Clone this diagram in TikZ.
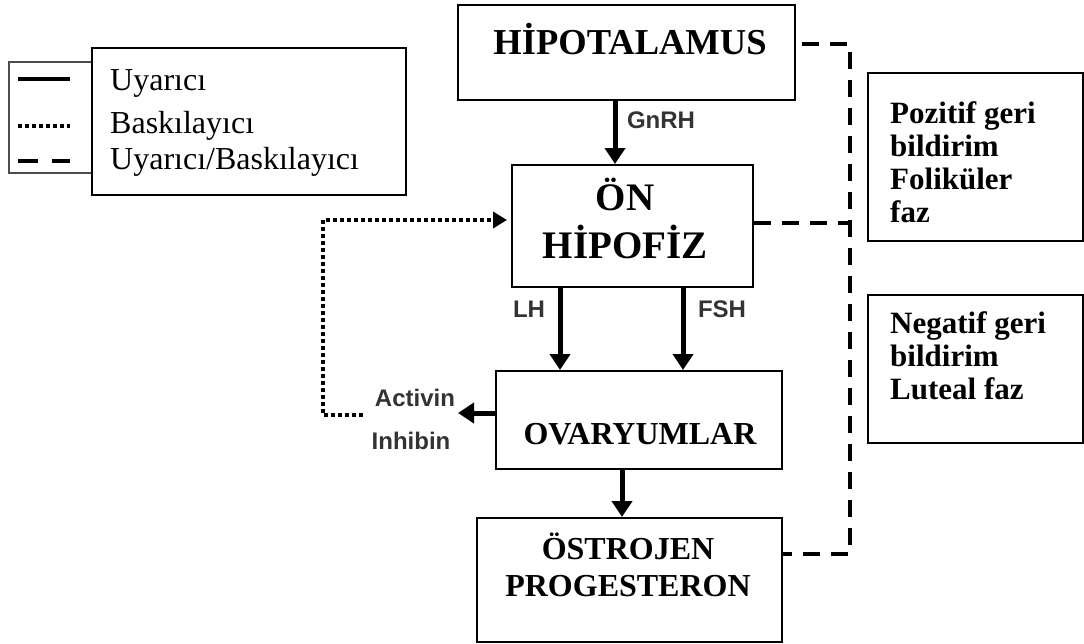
\documentclass[tikz,border=0pt]{standalone}
\usepackage{fontspec}
\setmainfont{Liberation Serif}
\newfontfamily\hormfont{Liberation Sans}
\usetikzlibrary{arrows.meta}
\usetikzlibrary{calc}

\begin{document}
\begin{tikzpicture}[x=1pt, y=-1pt,
	sqbox/.style={rectangle,draw=black,line width=2pt,inner sep=0pt},
	boxtext/.style 2 args={font=\bfseries\fontsize{#1}{#2}\selectfont,align=center,inner sep=0pt,anchor=base},
	sidetext/.style={font=\bfseries\fontsize{31}{33}\selectfont,align=left,inner sep=0pt,anchor=north west},
	legtext/.style={font=\fontsize{32}{34}\selectfont,inner sep=0pt,anchor=base west},
	hormone/.style={font=\hormfont\bfseries\fontsize{24}{26}\selectfont,text=black!80,inner sep=0pt},
	hormarrow/.style={line width=5pt,-{Triangle[width=20pt,length=16pt]}},
	feedback/.style={line width=4pt,dash pattern=on 4pt off 3pt,-{Triangle[width=16pt,length=14pt]}},
	control/.style={line width=4pt,dash pattern=on 17pt off 11pt}]
	\useasboundingbox (0,0) rectangle (1084,643);

	% legend
	\node[sqbox, draw=black!70, line width=1.5pt, minimum width=83pt, minimum height=111pt] (legkey) at (50.5,117.5) {};
	\node[sqbox, fill=white, line width=1.5pt, minimum width=314pt, minimum height=147pt] (legbox) at (249,121.5) {};
	\draw[line width=4pt] (18,79) -- (70,79);
	\draw[line width=4pt, dash pattern=on 4pt off 3pt] (18,126) -- (70,126);
	\draw[line width=4pt, dash pattern=on 20pt off 14pt] (18,161) -- (70,161);
	\node[legtext] (uyarici) at (110,90) {Uyarıcı};
	\node[legtext] (baskilayici) at (110,133) {Baskılayıcı};
	\node[legtext] (ikisi) at (110,169) {Uyarıcı/Baskılayıcı};

	% main boxes
	\node[sqbox, line width=2.5pt, minimum width=337pt, minimum height=95pt] (hipo) at (626.5,52.5) {};
	\node[sqbox, minimum width=241pt, minimum height=122pt] (hipof) at (632.5,226) {};
	\node[sqbox, minimum width=286pt, minimum height=98pt] (ovar) at (639,420) {};
	\node[sqbox, minimum width=305pt, minimum height=124pt] (ostro) at (629.5,580) {};
	\node[sqbox, minimum width=215pt, minimum height=168pt] (pozbox) at (975.5,157) {};
	\node[sqbox, minimum width=215pt, minimum height=148pt] (negbox) at (975.5,369) {};

	\node[boxtext={36.5}{40}] (hipotxt) at (630,54) {HİPOTALAMUS};
	\node[boxtext={39}{48}] (hipoftxt) at (625,258) {ÖN\\HİPOFİZ};
	\node[boxtext={32}{36}] (ovartxt) at (640,444) {OVARYUMLAR};
	\node[boxtext={32}{37}] (ostrotxt) at (628,596) {ÖSTROJEN\\PROGESTERON};
	\node[sidetext] (poztxt) at (890,101) {Pozitif geri\\bildirim\\Foliküler\\faz};
	\node[sidetext] (negtxt) at (890,311) {Negatif geri\\bildirim\\Luteal faz};

	% hormones
	\node[hormone] (gnrh) at (661,120) {GnRH};
	\node[hormone] (lh) at (529,309) {LH};
	\node[hormone] (fsh) at (722,309) {FSH};
	\node[hormone] (activin) at (415,398) {Activin};
	\node[hormone] (inhibin) at (411,441) {Inhibin};

	\draw[hormarrow] ([xshift=-11.5pt]hipo.south) -- ([xshift=-11.5pt]hipo.south |- hipof.north);
	\draw[hormarrow] ([xshift=-72.5pt]hipof.south) -- ([xshift=-72.5pt]hipof.south |- ovar.north);
	\draw[hormarrow] ([xshift=50.5pt]hipof.south) -- ([xshift=50.5pt]hipof.south |- ovar.north);
	\draw[hormarrow] ([xshift=-17pt]ovar.south) -- ([xshift=-17pt]ovar.south |- ostro.north);
	\coordinate (actip) at (458,413);
	\draw[hormarrow] ([yshift=7pt]ovar.west) -- (actip);

	% feedback loops
	\coordinate (fbstart) at (363,415);
	\draw[feedback, shorten >=4pt] (fbstart) -- ++(-40,0) |- ([yshift=6pt]hipof.west);
	\coordinate (ctrlx) at (850,0);
	\draw[control, shorten <=6pt] ([yshift=8.5pt]hipo.east) -- ([yshift=8.5pt]hipo.east -| ctrlx) |- ([yshift=26pt]ostro.east);
	\draw[control] ([yshift=3pt]hipof.east) -- ([yshift=3pt]hipof.east -| ctrlx);
\end{tikzpicture}
\end{document}
